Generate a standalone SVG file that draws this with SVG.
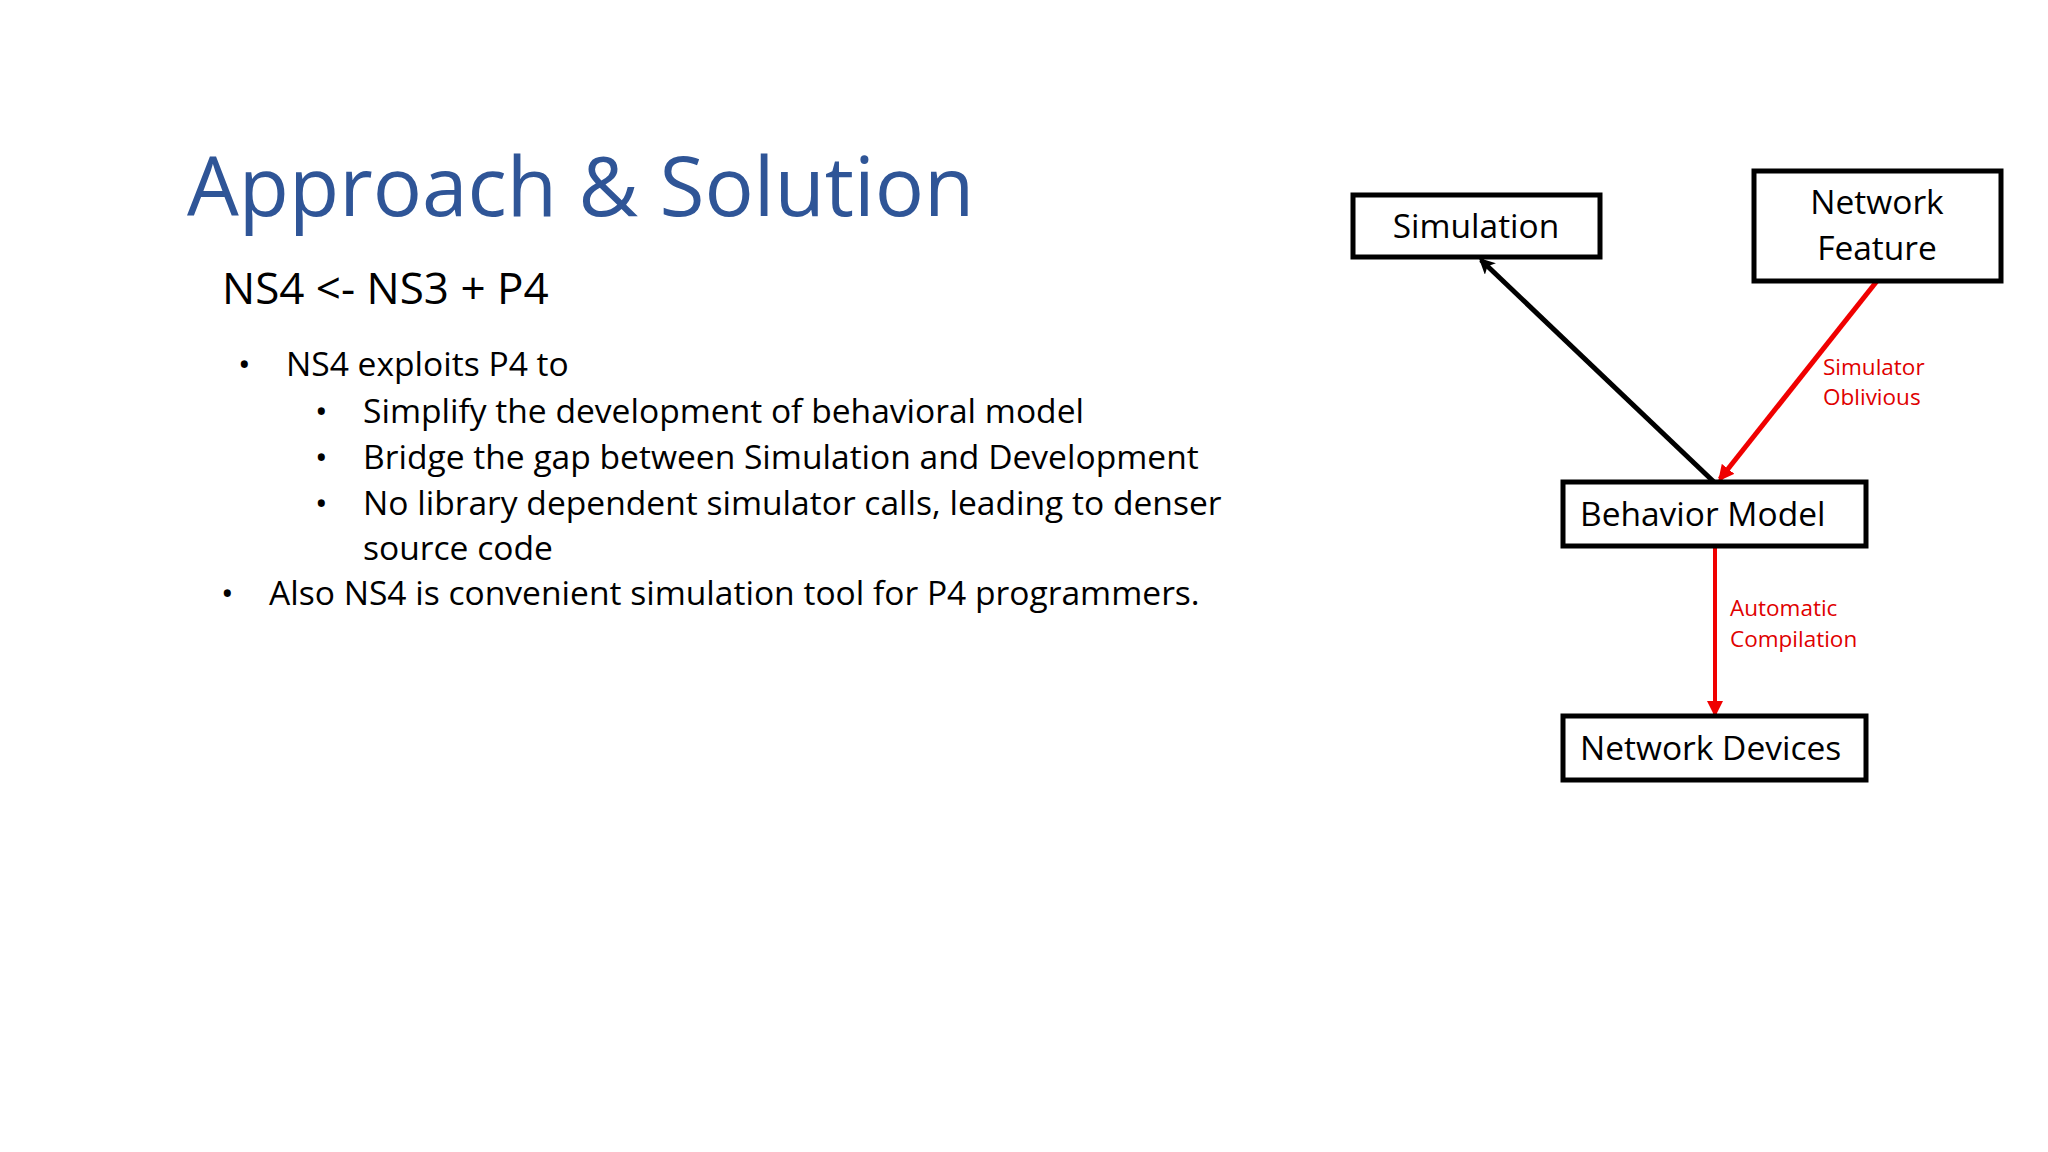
<svg xmlns="http://www.w3.org/2000/svg" width="2048" height="1152" viewBox="0 0 2048 1152">
<style>
text{font-family:"Open Sans","Noto Sans",sans-serif;fill:#000}
.t{font-size:33.5px}
.box{fill:#fff;stroke:#000;stroke-width:5}
.lbl{font-size:22.5px;fill:#e00000}
.b{font-size:33.6px}
.d{font-size:33.6px}
</style>
<defs>
<marker id="ak" markerWidth="16" markerHeight="16" refX="13" refY="8" orient="auto" markerUnits="userSpaceOnUse" viewBox="0 0 16 16"><path d="M0,0L16,8L0,16L4,8z" fill="#000"/></marker>
<marker id="ar" markerWidth="16" markerHeight="16" refX="13" refY="8" orient="auto" markerUnits="userSpaceOnUse" viewBox="0 0 16 16"><path d="M0,0L16,8L0,16z" fill="#f00000"/></marker>
</defs>
<rect width="2048" height="1152" fill="#fff"/>
<text x="187" y="216" style="font-size:82px;fill:#2F5597">Approach &amp; Solution</text>
<text x="222" y="304" style="font-size:44px">NS4 &lt;- NS3 + P4</text>
<g>
<text x="238" y="376" class="d">•</text><text x="286" y="376" class="b">NS4 exploits P4 to</text>
<text x="315" y="423" class="d">•</text><text x="363" y="423" class="b">Simplify the development of behavioral model</text>
<text x="315" y="469" class="d">•</text><text x="363" y="469" class="b">Bridge the gap between Simulation and Development</text>
<text x="315" y="515" class="d">•</text><text x="363" y="515" class="b">No library dependent simulator calls, leading to denser</text>
<text x="363" y="560" class="b">source code</text>
<text x="221" y="605" class="d">•</text><text x="269" y="605" class="b">Also NS4 is convenient simulation tool for P4 programmers.</text>
</g>
<g id="connectors">
<line x1="1714" y1="482" x2="1481" y2="260" stroke="#000" stroke-width="5" marker-end="url(#ak)"/>
<line x1="1877" y1="281" x2="1720" y2="479" stroke="#f00000" stroke-width="5" marker-end="url(#ar)"/>
<line x1="1715" y1="546" x2="1715" y2="714" stroke="#f00000" stroke-width="4" marker-end="url(#ar)"/>
<text class="lbl" x="1823" y="375">Simulator</text><text class="lbl" x="1823" y="405">Oblivious</text>
<text class="lbl" x="1730" y="616">Automatic</text><text class="lbl" x="1730" y="647">Compilation</text>
</g>
<g id="simulation"><rect class="box" x="1353" y="195" width="247" height="62"/><text class="t" x="1476" y="238" text-anchor="middle">Simulation</text></g>
<g id="feature"><rect class="box" x="1754" y="171" width="247" height="110"/><text class="t" x="1877" y="214" text-anchor="middle">Network</text><text class="t" x="1877" y="260" text-anchor="middle">Feature</text></g>
<g id="behavior"><rect class="box" x="1563" y="482" width="303" height="64"/><text class="t" x="1580" y="526">Behavior Model</text></g>
<g id="devices"><rect class="box" x="1563" y="716" width="303" height="64"/><text class="t" x="1580" y="760">Network Devices</text></g>
</svg>
